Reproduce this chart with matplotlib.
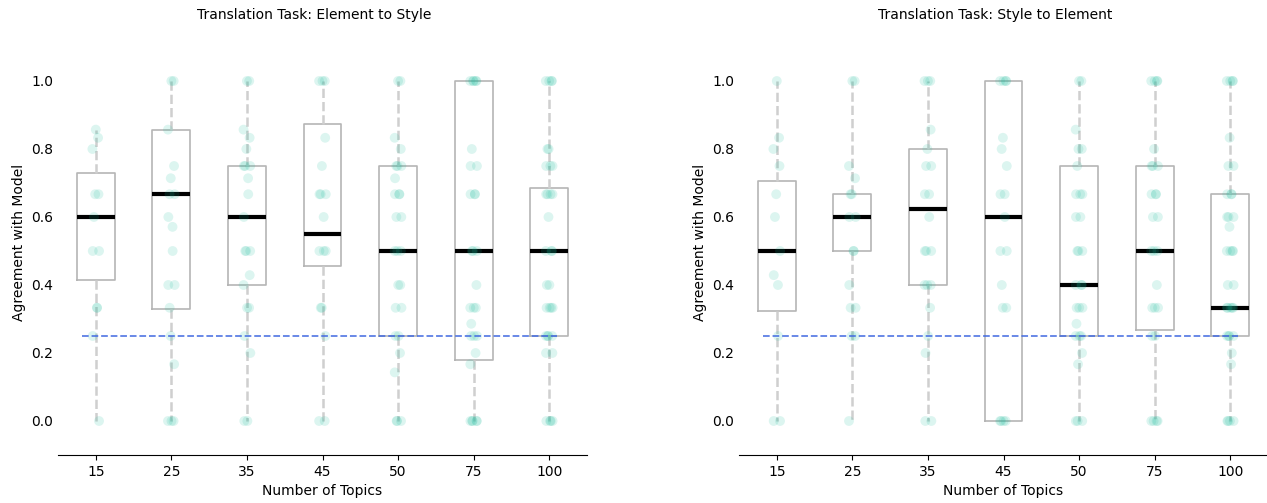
import numpy as np
import matplotlib
matplotlib.use("Agg")
import matplotlib.pyplot as plt

# ---- data ----
topics = ["15", "25", "35", "45", "50", "75", "100"]
chance_level = 0.25

# Element -> Style: box stats
e2s_q1 = [0.415, 0.33, 0.40, 0.455, 0.25, 0.18, 0.25]
e2s_med = [0.60, 0.667, 0.60, 0.55, 0.50, 0.50, 0.50]
e2s_q3 = [0.73, 0.857, 0.75, 0.875, 0.75, 1.00, 0.686]
e2s_lo = [0.0, 0.0, 0.0, 0.0, 0.0, 0.0, 0.0]
e2s_hi = [0.857, 1.0, 1.0, 1.0, 1.0, 1.0, 1.0]

# Element -> Style: individual scores
e2s_15 = [0.857, 0.833, 0.8, 0.667, 0.667, 0.6, 0.5, 0.5, 0.333, 0.333, 0.25, 0.0]
e2s_25 = [1.0, 1.0, 0.857, 0.75, 0.714, 0.667, 0.667, 0.6, 0.571, 0.5, 0.4, 0.4,
          0.333, 0.25, 0.167, 0.0, 0.0, 0.0]
e2s_35 = [1.0, 1.0, 0.857, 0.833, 0.8, 0.75, 0.75, 0.75, 0.714, 0.667, 0.6, 0.5,
          0.5, 0.5, 0.429, 0.4, 0.333, 0.333, 0.25, 0.2, 0.0, 0.0]
e2s_45 = [1.0, 1.0, 1.0, 0.833, 0.75, 0.667, 0.667, 0.667, 0.6, 0.5, 0.5, 0.5,
          0.333, 0.333, 0.25, 0.0, 0.0]
e2s_50 = [1.0, 1.0, 0.833, 0.8, 0.75, 0.75, 0.75, 0.714, 0.667, 0.667, 0.667, 0.6,
          0.6, 0.5, 0.5, 0.5, 0.4, 0.4, 0.333, 0.333, 0.25, 0.25, 0.2, 0.143,
          0.0, 0.0, 0.0]
e2s_75 = [1.0, 1.0, 1.0, 1.0, 1.0, 0.8, 0.75, 0.75, 0.667, 0.667, 0.667, 0.5, 0.5,
          0.5, 0.4, 0.333, 0.333, 0.333, 0.286, 0.25, 0.25, 0.25, 0.2, 0.167,
          0.0, 0.0, 0.0, 0.0, 0.0]
e2s_100 = [1.0, 1.0, 1.0, 1.0, 0.8, 0.8, 0.75, 0.75, 0.75, 0.667, 0.667, 0.667,
           0.667, 0.6, 0.5, 0.5, 0.5, 0.4, 0.4, 0.333, 0.333, 0.333, 0.333, 0.25,
           0.25, 0.25, 0.25, 0.2, 0.2, 0.0, 0.0, 0.0, 0.0]

# Style -> Element: box stats
s2e_q1 = [0.323, 0.50, 0.40, 0.0, 0.25, 0.268, 0.25]
s2e_med = [0.50, 0.60, 0.625, 0.60, 0.40, 0.50, 0.333]
s2e_q3 = [0.706, 0.667, 0.80, 1.0, 0.75, 0.75, 0.667]
s2e_lo = [0.0, 0.0, 0.0, 0.0, 0.0, 0.0, 0.0]
s2e_hi = [1.0, 1.0, 1.0, 1.0, 1.0, 1.0, 1.0]

# Style -> Element: individual scores
s2e_15 = [1.0, 0.833, 0.8, 0.75, 0.667, 0.6, 0.5, 0.429, 0.4, 0.25, 0.0, 0.0]
s2e_25 = [1.0, 1.0, 0.75, 0.714, 0.667, 0.667, 0.6, 0.6, 0.5, 0.5, 0.4, 0.333,
          0.333, 0.25, 0.25, 0.0]
s2e_35 = [1.0, 1.0, 1.0, 0.857, 0.8, 0.75, 0.75, 0.667, 0.667, 0.6, 0.5, 0.5, 0.5,
          0.4, 0.4, 0.4, 0.333, 0.25, 0.2, 0.0, 0.0]
s2e_45 = [1.0, 1.0, 1.0, 1.0, 0.833, 0.8, 0.75, 0.667, 0.667, 0.6, 0.5, 0.5, 0.4,
          0.333, 0.333, 0.0, 0.0, 0.0, 0.0]
s2e_50 = [1.0, 1.0, 0.857, 0.8, 0.8, 0.75, 0.667, 0.667, 0.667, 0.6, 0.6, 0.5, 0.5,
          0.5, 0.4, 0.4, 0.4, 0.333, 0.333, 0.333, 0.286, 0.25, 0.25, 0.25, 0.2,
          0.167, 0.0, 0.0, 0.0]
s2e_75 = [1.0, 1.0, 1.0, 1.0, 0.8, 0.75, 0.75, 0.75, 0.667, 0.667, 0.667, 0.6, 0.6,
          0.5, 0.5, 0.5, 0.4, 0.333, 0.333, 0.333, 0.25, 0.25, 0.0, 0.0, 0.0, 0.0]
s2e_100 = [1.0, 1.0, 1.0, 1.0, 0.833, 0.75, 0.75, 0.667, 0.667, 0.667, 0.6, 0.6, 0.6,
           0.571, 0.5, 0.5, 0.5, 0.5, 0.4, 0.4, 0.333, 0.333, 0.333, 0.333, 0.333,
           0.25, 0.25, 0.25, 0.25, 0.2, 0.167, 0.0, 0.0, 0.0, 0.0]

panels = [
    ("Translation Task: Element to Style",
     (e2s_q1, e2s_med, e2s_q3, e2s_lo, e2s_hi),
     [e2s_15, e2s_25, e2s_35, e2s_45, e2s_50, e2s_75, e2s_100]),
    ("Translation Task: Style to Element",
     (s2e_q1, s2e_med, s2e_q3, s2e_lo, s2e_hi),
     [s2e_15, s2e_25, s2e_35, s2e_45, s2e_50, s2e_75, s2e_100]),
]

point_color = "#1abc9c"


def draw_panel(ax, title, stats, groups):
    q1, med, q3, lo, hi = stats
    bstats = []
    for i in range(len(topics)):
        bstats.append(dict(q1=q1[i], med=med[i], q3=q3[i], whislo=lo[i],
                           whishi=hi[i], fliers=[], label=topics[i]))
    ax.bxp(bstats, positions=range(len(topics)), widths=0.5, showcaps=False,
           showfliers=False, patch_artist=False,
           boxprops=dict(color="#b5b5b5", linewidth=1.2),
           whiskerprops=dict(color="#cfcfcf", linewidth=1.8, linestyle="--"),
           medianprops=dict(color="black", linewidth=3),
           zorder=2)

    # strip points, small deterministic horizontal spread
    for i, vals in enumerate(groups):
        vals = np.asarray(vals)
        k = np.arange(len(vals))
        offs = 0.045 * np.sin(k * 2.39996)
        ax.scatter(i + offs, vals, s=50, color=point_color, alpha=0.15,
                   edgecolors="none", zorder=3)

    ax.axhline(chance_level, xmin=0.045, xmax=0.943, color="royalblue",
               linestyle="--", linewidth=1.3, alpha=0.85, zorder=4)

    ax.set_xlim(-0.5, len(topics) - 0.5)
    ax.set_ylim(-0.1, 1.15)
    ax.set_yticks([0.0, 0.2, 0.4, 0.6, 0.8, 1.0])
    ax.set_xticks(range(len(topics)))
    ax.set_xticklabels(topics)
    ax.tick_params(axis="y", length=0)
    for side in ("left", "top", "right"):
        ax.spines[side].set_visible(False)
    ax.set_xlabel("Number of Topics")
    ax.set_ylabel("Agreement with Model")
    ax.set_title(title, fontsize=10, x=0.485, pad=8)


fig = plt.figure(figsize=(12.67, 5.03), dpi=100)
ax1 = fig.add_axes([58 / 1267, 48 / 503, 529 / 1267, 425 / 503])
ax2 = fig.add_axes([739 / 1267, 48 / 503, 529 / 1267, 425 / 503])

for ax, (title, stats, groups) in zip([ax1, ax2], panels):
    draw_panel(ax, title, stats, groups)

fig.savefig("out.png", dpi=100)
